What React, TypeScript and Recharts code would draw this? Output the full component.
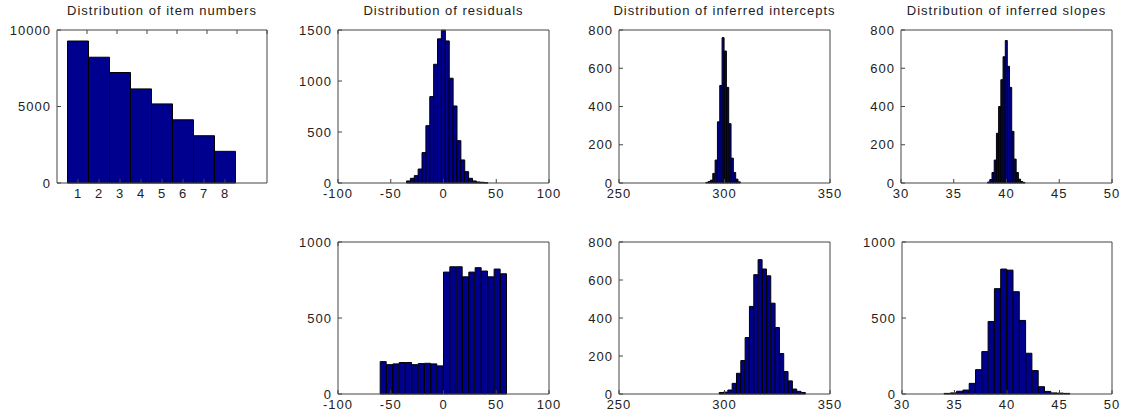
import React from 'react';
import { BarChart, Bar, XAxis, YAxis } from 'recharts';

// histogram bin centres and counts
const itemCenters = [1, 2, 3, 4, 5, 6, 7, 8];
const itemCounts = [9280, 8220, 7220, 6150, 5170, 4130, 3090, 2070];

const residCentersA = [-33.2, -29.53, -25.86, -22.19, -18.52, -14.85, -11.18, -7.51, -3.84, -0.17, 3.5, 7.17, 10.84, 14.51, 18.18, 21.85, 25.52, 29.19, 32.86, 36.53, 40.2];
const residCountsA = [20, 46, 72, 137, 298, 562, 847, 1164, 1413, 1498, 1393, 1027, 755, 415, 226, 111, 46, 20, 10, 7, 3];

const interCentersA = [291.7, 292.8, 293.9, 295.0, 296.1, 297.2, 298.3, 299.4, 300.5, 301.6, 302.7, 303.8, 304.9, 306.0, 307.1];
const interCountsA = [3, 8, 15, 50, 120, 320, 510, 760, 690, 500, 310, 130, 55, 20, 6];

const slopeCentersA = [38.31, 38.52, 38.73, 38.94, 39.15, 39.36, 39.57, 39.78, 39.99, 40.2, 40.41, 40.62, 40.83, 41.04, 41.25, 41.46, 41.67];
const slopeCountsA = [5, 18, 55, 120, 260, 400, 540, 660, 745, 610, 500, 270, 125, 55, 20, 8, 3];

const residCentersB = [-57, -51, -45, -39, -33, -27, -21, -15, -9, -3, 3, 9, 15, 21, 27, 33, 39, 45, 51, 57];
const residCountsB = [213, 193, 198, 207, 207, 193, 200, 202, 198, 185, 802, 837, 837, 771, 802, 831, 809, 771, 822, 791];

const interCentersB = [298.5, 300.55, 302.6, 304.65, 306.7, 308.75, 310.8, 312.85, 314.9, 316.95, 319, 321.05, 323.1, 325.15, 327.2, 329.25, 331.3, 333.35, 335.4, 337.45];
const interCountsB = [8, 10, 21, 56, 109, 176, 297, 461, 628, 707, 658, 622, 478, 350, 213, 118, 69, 26, 14, 8];

const slopeCentersB = [34.3, 34.9, 35.5, 36.1, 36.7, 37.3, 37.9, 38.5, 39.1, 39.7, 40.3, 40.9, 41.5, 42.1, 42.7, 43.3, 43.9, 44.5, 45.1, 45.7];
const slopeCountsB = [4, 7, 18, 26, 70, 160, 279, 477, 693, 822, 815, 673, 484, 268, 154, 48, 17, 7, 6, 4];

// tick labels
const itemTicks = [1, 2, 3, 4, 5, 6, 7, 8];
const residTicks = [-100, -50, 0, 50, 100];
const interTicks = [250, 300, 350];
const slopeTicks = [30, 35, 40, 45, 50];

const BAR_FILL = '#00008F';
const AXIS = '#444';
const TEXT = '#222';
const FONT = "'Liberation Sans', Arial, sans-serif";

type HistProps = {
  title?: string;
  centers: number[];
  counts: number[];
  xDomain: [number, number];
  xTicks: number[];
  yTicks: number[];
  box: [number, number, number, number]; // x0, x1, y0, y1 of the plot area
};

const YW = 60;
const TOP = 10;
const XH = 25;
const RIGHT = 18;

const Hist: React.FC<HistProps> = ({ title, centers, counts, xDomain, xTicks, yTicks, box }) => {
  const [x0, x1, y0, y1] = box;
  const w = x1 - x0;
  const h = y1 - y0;
  const data = centers.map((c, i) => ({ x: c, n: counts[i] }));
  const yDomain: [number, number] = [yTicks[0], yTicks[yTicks.length - 1]];
  const tickStyle = { fill: TEXT, fontSize: 13 };

  return (
    <>
      {title && (
        <div
          style={{
            position: 'absolute',
            left: x0 - 60,
            width: w + 120,
            top: 3,
            textAlign: 'center',
            fontSize: 13,
            lineHeight: '16px',
            color: TEXT,
            letterSpacing: '1px',
            whiteSpace: 'nowrap',
          }}
        >
          {title}
        </div>
      )}
      <div style={{ position: 'absolute', left: x0 - YW, top: y0 - TOP }}>
        {/* top and right axes take 1px each, so the margins give that back */}
        <BarChart
          width={YW + w + RIGHT}
          height={TOP + h + XH}
          data={data}
          margin={{ top: TOP - 1, right: RIGHT - 1, bottom: 0, left: 0 }}
          barCategoryGap={0}
          barGap={0}
        >
          <XAxis
            xAxisId="b"
            dataKey="x"
            type="number"
            domain={xDomain}
            ticks={xTicks}
            interval={0}
            height={XH}
            stroke={AXIS}
            tickSize={-4}
            tickMargin={10}
            tick={tickStyle}
          />
          <XAxis
            xAxisId="t"
            orientation="top"
            type="number"
            domain={xDomain}
            ticks={xTicks}
            interval={0}
            height={1}
            stroke={AXIS}
            tickSize={-4}
            tickFormatter={() => ''}
          />
          <YAxis
            yAxisId="l"
            type="number"
            domain={yDomain}
            ticks={yTicks}
            interval={0}
            width={YW}
            stroke={AXIS}
            tickSize={-4}
            tickMargin={10}
            tick={tickStyle}
          />
          <YAxis
            yAxisId="r"
            orientation="right"
            type="number"
            domain={yDomain}
            ticks={yTicks}
            interval={0}
            width={1}
            stroke={AXIS}
            tickSize={-4}
            tickFormatter={() => ''}
          />
          <Bar
            xAxisId="b"
            yAxisId="l"
            dataKey="n"
            fill={BAR_FILL}
            stroke="#000"
            strokeWidth={1}
            isAnimationActive={false}
          />
        </BarChart>
      </div>
    </>
  );
};

const App: React.FC = () => {
  return (
    <div
      style={{
        position: 'absolute',
        left: 0,
        top: 0,
        width: 1122,
        height: 414,
        background: '#fff',
        fontFamily: FONT,
        letterSpacing: '1px',
        overflow: 'hidden',
      }}
    >
      <Hist
        title="Distribution of item numbers"
        centers={itemCenters}
        counts={itemCounts}
        xDomain={[0, 10]}
        xTicks={itemTicks}
        yTicks={[0, 5000, 10000]}
        box={[57, 267, 30, 183]}
      />
      <Hist
        title="Distribution of residuals"
        centers={residCentersA}
        counts={residCountsA}
        xDomain={[-100, 100]}
        xTicks={residTicks}
        yTicks={[0, 500, 1000, 1500]}
        box={[338, 549, 30, 183]}
      />
      <Hist
        title="Distribution of inferred intercepts"
        centers={interCentersA}
        counts={interCountsA}
        xDomain={[250, 350]}
        xTicks={interTicks}
        yTicks={[0, 200, 400, 600, 800]}
        box={[619, 830, 30, 183]}
      />
      <Hist
        title="Distribution of inferred slopes"
        centers={slopeCentersA}
        counts={slopeCountsA}
        xDomain={[30, 50]}
        xTicks={slopeTicks}
        yTicks={[0, 200, 400, 600, 800]}
        box={[901, 1112, 30, 183]}
      />
      <Hist
        centers={residCentersB}
        counts={residCountsB}
        xDomain={[-100, 100]}
        xTicks={residTicks}
        yTicks={[0, 500, 1000]}
        box={[338, 549, 242, 394]}
      />
      <Hist
        centers={interCentersB}
        counts={interCountsB}
        xDomain={[250, 350]}
        xTicks={interTicks}
        yTicks={[0, 200, 400, 600, 800]}
        box={[619, 830, 242, 394]}
      />
      <Hist
        centers={slopeCentersB}
        counts={slopeCountsB}
        xDomain={[30, 50]}
        xTicks={slopeTicks}
        yTicks={[0, 500, 1000]}
        box={[902, 1112, 242, 394]}
      />
    </div>
  );
};

export default App;
